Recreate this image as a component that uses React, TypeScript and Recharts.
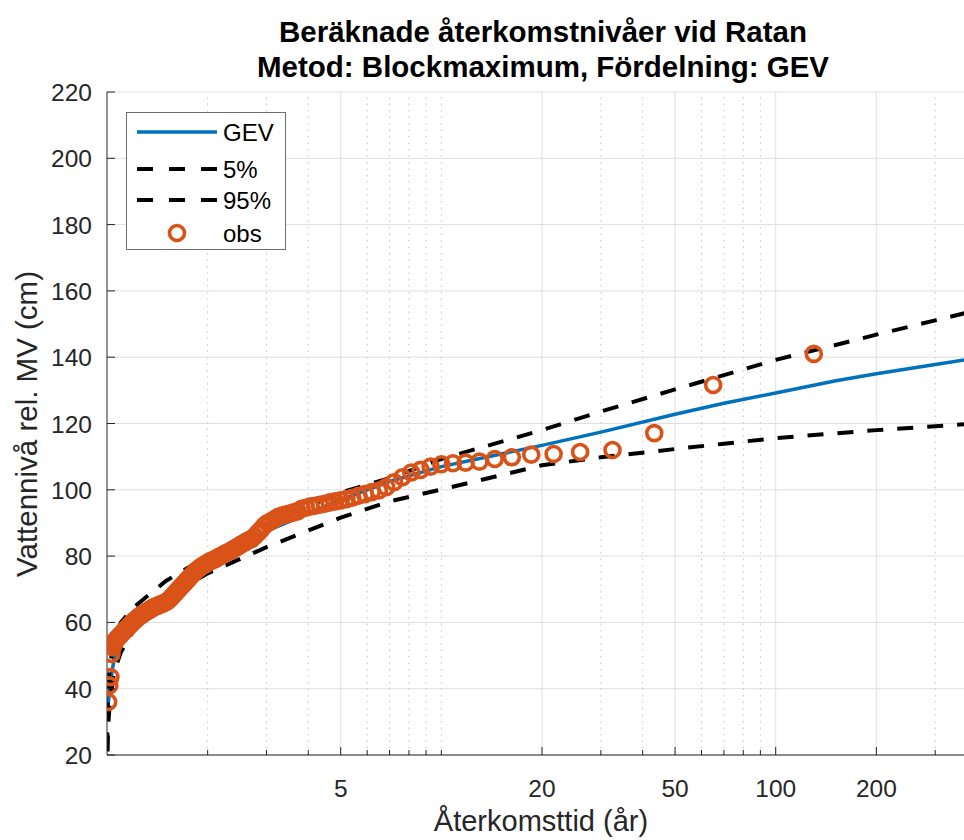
import React from "react";
import { CartesianGrid, ComposedChart, Line, ReferenceLine, Scatter, XAxis, YAxis } from "recharts";

// Observed annual maxima, sorted high to low, with their plotting-position return periods (år)
const RETURN_PERIODS = [
  130, 65, 43.333, 32.5, 26, 21.667, 18.571, 16.25, 14.444, 13, 11.818, 10.833, 10, 9.286, 8.667,
  8.125, 7.647, 7.222, 6.842, 6.5, 6.19, 5.909, 5.652, 5.417, 5.2, 5, 4.815, 4.643, 4.483, 4.333,
  4.194, 4.063, 3.939, 3.824, 3.714, 3.611, 3.514, 3.421, 3.333, 3.25, 3.171, 3.095, 3.023, 2.955,
  2.889, 2.826, 2.766, 2.708, 2.653, 2.6, 2.549, 2.5, 2.453, 2.407, 2.364, 2.321, 2.281, 2.241,
  2.203, 2.167, 2.131, 2.097, 2.063, 2.031, 2, 1.97, 1.94, 1.912, 1.884, 1.857, 1.831, 1.806, 1.781,
  1.757, 1.733, 1.711, 1.688, 1.667, 1.646, 1.625, 1.605, 1.585, 1.566, 1.548, 1.529, 1.512, 1.494,
  1.477, 1.461, 1.444, 1.429, 1.413, 1.398, 1.383, 1.368, 1.354, 1.34, 1.327, 1.313, 1.3, 1.287,
  1.275, 1.262, 1.25, 1.238, 1.226, 1.215, 1.204, 1.193, 1.182, 1.171, 1.161, 1.15, 1.14, 1.13,
  1.121, 1.111, 1.102, 1.092, 1.083, 1.074, 1.066, 1.057, 1.048, 1.04, 1.032, 1.024, 1.016, 1.008,
];
const OBS_LEVELS = [
  141, 131.6, 117.1, 112, 111.4, 110.8, 110.6, 109.8, 109.3, 108.5, 108.2, 108, 107.7, 107, 106,
  105.2, 103.8, 102.3, 100.8, 99.8, 99.3, 98.7, 98.2, 97.6, 97.2, 96.8, 96.5, 96.2, 95.8, 95.5,
  95.2, 95, 94.6, 94.3, 93.5, 93.2, 92.8, 92.5, 92.2, 91.8, 91.2, 90.5, 90, 89.2, 88, 87, 86, 85.2,
  84.8, 84.3, 83.8, 83.3, 82.8, 82.3, 81.8, 81.4, 81, 80.6, 80.2, 79.8, 79.4, 79, 78.7, 78.4, 78,
  77.6, 77.2, 76.8, 76.3, 75.8, 75.2, 74.6, 74, 73.3, 72.7, 72, 71.4, 70.8, 70.2, 69.6, 69, 68.4,
  67.8, 67.2, 66.7, 66.3, 66, 65.8, 65.6, 65.4, 65.2, 65, 64.8, 64.6, 64.4, 64.1, 63.8, 63.5, 63.2,
  63, 62.7, 62.4, 62.1, 61.8, 61.5, 61.1, 60.8, 60.4, 60, 59.6, 59.2, 58.8, 58.4, 58, 57.6, 57.2,
  56.8, 56.4, 56, 55.6, 55.2, 54.8, 54.3, 53.5, 52.5, 50.5, 43.5, 41, 36,
];

// Fitted GEV and its confidence bounds
const CURVE_T = [1.001, 1.005, 1.01, 1.02, 1.05, 1.1, 1.2, 1.5, 2, 3, 5, 7, 10, 20, 30, 50, 70, 100, 150, 200, 300, 400];
const GEV_LEVELS = [31, 33, 36, 41, 49, 55, 61, 68.5, 77.5, 87.5, 97, 102.5, 107, 113.4, 117.4, 122.8, 126.1, 129.2, 132.8, 135, 137.8, 139.8];
const CI5_LEVELS = [22, 35, 41, 47, 54.5, 60, 64.5, 72.5, 80, 89.5, 99.2, 103.5, 109.3, 118, 123.6, 130.3, 134.6, 139.2, 143.6, 146.8, 151.1, 154.2];
const CI95_LEVELS = [12, 24, 30, 36, 45, 51, 57.5, 67.5, 74.8, 82.7, 91.6, 96.5, 100.1, 107.4, 109.8, 112.3, 113.9, 115.6, 117, 118, 119.2, 120];

const Y_TICKS = [20, 40, 60, 80, 100, 120, 140, 160, 180, 200, 220];
const X_LABELED = [5, 20, 50, 100, 200];
const X_MINOR = [2, 3, 4, 6, 7, 8, 9, 10, 30, 40, 60, 70, 80, 90, 300];
const X_TICKS = [2, 3, 4, 5, 6, 7, 8, 9, 10, 20, 30, 40, 50, 60, 70, 80, 90, 100, 200, 300];

const BLUE = "#0072BD";
const ORANGE = "#D95319";
const AXIS = "#262626";
const FONT = "'Liberation Sans', Arial, sans-serif";

const PLOT_TOP = 92;
const PLOT_BOTTOM = 755;
const PLOT_LEFT = 107;

const toPoints = (ts: number[], vs: number[]) => ts.map((t, i) => ({ t, v: vs[i] }));
const obsData = toPoints(RETURN_PERIODS, OBS_LEVELS);
const gevData = toPoints(CURVE_T, GEV_LEVELS);
const ci5Data = toPoints(CURVE_T, CI5_LEVELS);
const ci95Data = toPoints(CURVE_T, CI95_LEVELS);

function BottomTick(props: any) {
  const { x, payload } = props;
  const major = X_LABELED.includes(payload.value);
  return (
    <g>
      <line x1={x} x2={x} y1={PLOT_BOTTOM} y2={PLOT_BOTTOM - (major ? 8 : 5)} stroke={AXIS} strokeWidth={1} />
      {major && (
        <text x={x} y={PLOT_BOTTOM + 42} textAnchor="middle" fontSize={24.5} fontFamily={FONT} fill={AXIS}>
          {payload.value}
        </text>
      )}
    </g>
  );
}

function TopTick(props: any) {
  const { x, payload } = props;
  const major = X_LABELED.includes(payload.value);
  return <line x1={x} x2={x} y1={PLOT_TOP} y2={PLOT_TOP + (major ? 8 : 5)} stroke={AXIS} strokeWidth={1} />;
}

function LeftTick(props: any) {
  const { y, payload } = props;
  return (
    <g>
      <line x1={PLOT_LEFT} x2={PLOT_LEFT + 8} y1={y} y2={y} stroke={AXIS} strokeWidth={1} />
      <text x={PLOT_LEFT - 15} y={y + 9} textAnchor="end" fontSize={24.5} fontFamily={FONT} fill={AXIS}>
        {payload.value}
      </text>
    </g>
  );
}

const ring = (p: any) => (
  <circle cx={p.cx} cy={p.cy} r={7.5} fill="none" stroke={ORANGE} strokeWidth={3.6} />
);

function Overlay() {
  return (
    <svg width={964} height={840} style={{ position: "absolute", left: 0, top: 0, pointerEvents: "none" }}>
      <g fontFamily={FONT} fill="#000">
        <text x={543} y={42} textAnchor="middle" fontSize={29.5} fontWeight="bold">
          Beräknade återkomstnivåer vid Ratan
        </text>
        <text x={543} y={77} textAnchor="middle" fontSize={29.5} fontWeight="bold">
          Metod: Blockmaximum, Fördelning: GEV
        </text>
      </g>
      <text x={541} y={831} textAnchor="middle" fontSize={29} fontFamily={FONT} fill={AXIS}>
        Återkomsttid (år)
      </text>
      <text
        transform="translate(37,424) rotate(-90)"
        textAnchor="middle"
        fontSize={29.5}
        fontFamily={FONT}
        fill={AXIS}
      >
        Vattennivå rel. MV (cm)
      </text>

      <g fontFamily={FONT} fontSize={24} fill="#000">
        <rect x={126.5} y={112.5} width={159} height={137} fill="#fff" stroke="#6e6e6e" strokeWidth={1} />
        <line x1={137} x2={217} y1={132} y2={132} stroke={BLUE} strokeWidth={3.5} />
        <text x={223} y={141}>GEV</text>
        <line x1={137} x2={217} y1={169} y2={169} stroke="#000" strokeWidth={4} strokeDasharray="16 16" />
        <text x={223} y={178}>5%</text>
        <line x1={137} x2={217} y1={200} y2={200} stroke="#000" strokeWidth={4} strokeDasharray="16 16" />
        <text x={223} y={209}>95%</text>
        <circle cx={177} cy={233} r={7.5} fill="none" stroke={ORANGE} strokeWidth={3.6} />
        <text x={223} y={242}>obs</text>
      </g>
    </svg>
  );
}

export default function App() {
  return (
    <div style={{ position: "absolute", left: 0, top: 0, width: 964, height: 840, overflow: "hidden", background: "#fff" }}>
      <ComposedChart width={980} height={840} margin={{ top: PLOT_TOP, right: 3, bottom: 0, left: 0 }}>
        <CartesianGrid horizontal vertical={false} stroke="#dfdfdf" />
        {X_MINOR.map((v) => (
          <ReferenceLine key={`m${v}`} x={v} stroke="#c4c4c4" strokeDasharray="1.5 5" />
        ))}
        {X_LABELED.map((v) => (
          <ReferenceLine key={`M${v}`} x={v} stroke="#dfdfdf" />
        ))}
        <XAxis
          dataKey="t"
          type="number"
          scale="log"
          domain={[1, 400]}
          allowDataOverflow
          ticks={X_TICKS}
          interval={0}
          height={85}
          tickLine={false}
          axisLine={{ stroke: AXIS }}
          tick={(p: any) => <BottomTick {...p} />}
        />
        <XAxis
          xAxisId="top"
          orientation="top"
          dataKey="t"
          type="number"
          scale="log"
          domain={[1, 400]}
          allowDataOverflow
          ticks={X_TICKS}
          interval={0}
          height={0}
          tickLine={false}
          axisLine={{ stroke: AXIS }}
          tick={(p: any) => <TopTick {...p} />}
        />
        <YAxis
          dataKey="v"
          type="number"
          domain={[20, 220]}
          allowDataOverflow
          ticks={Y_TICKS}
          interval={0}
          width={PLOT_LEFT}
          tickLine={false}
          axisLine={{ stroke: AXIS }}
          tick={(p: any) => <LeftTick {...p} />}
        />
        <Line data={gevData} dataKey="v" stroke={BLUE} strokeWidth={3.5} dot={false} isAnimationActive={false} />
        <Line data={ci5Data} dataKey="v" stroke="#000" strokeWidth={4} strokeDasharray="16 14" dot={false} isAnimationActive={false} />
        <Line data={ci95Data} dataKey="v" stroke="#000" strokeWidth={4} strokeDasharray="16 14" dot={false} isAnimationActive={false} />
        <Scatter data={obsData} dataKey="v" shape={ring} isAnimationActive={false} />
      </ComposedChart>
      <Overlay />
    </div>
  );
}
